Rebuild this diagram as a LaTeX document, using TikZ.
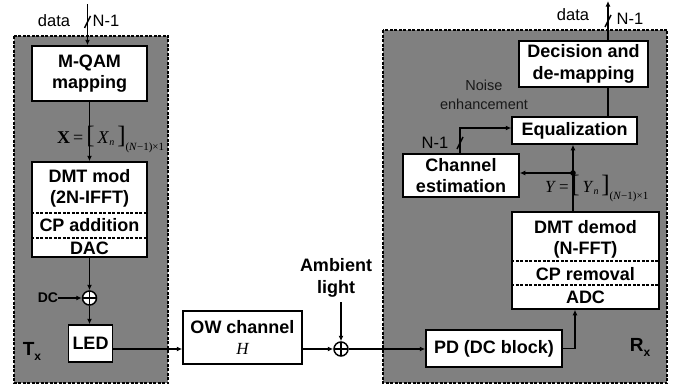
\documentclass[tikz,border=0pt]{standalone}
\usepackage{fontspec}
\setmainfont{Liberation Sans}
\newfontfamily\tms{Liberation Serif}
\usetikzlibrary{arrows.meta,calc}
\definecolor{panel}{HTML}{808080}
\newcommand{\bigbr}[1]{{\fontsize{25}{25}\selectfont #1}}
\begin{document}
\begin{tikzpicture}[x=1pt,y=-1pt,
  panelbox/.style={draw=black,fill=panel,line width=1.1pt,dash pattern=on 3pt off 1.5pt},
  box/.style={draw=black,fill=white,line width=1.5pt,inner sep=0pt,align=center,font=\fontsize{18}{21.5}\selectfont\bfseries},
  btxt/.style={inner sep=0pt,align=center,font=\fontsize{18}{21.5}\selectfont\bfseries},
  rtxt/.style={inner sep=0pt,align=center,font=\fontsize{16.5}{19}\selectfont},
  mtxt/.style={inner sep=0pt,font=\tms\fontsize{18}{18}\selectfont},
  sep/.style={line width=1.1pt,dash pattern=on 3pt off 1.5pt},
  conn/.style={line width=1.5pt},
  arr/.style={conn,-{Latex[length=5.5pt,width=5pt]}},
  sum/.style={circle,draw=black,fill=white,line width=1.5pt,minimum size=14pt,inner sep=0pt,
    path picture={\draw[line width=1.2pt] (path picture bounding box.north) -- (path picture bounding box.south) (path picture bounding box.west) -- (path picture bounding box.east);}}
]
\useasboundingbox (0,0) rectangle (686,388);
% panels
\draw[panelbox] (14,36) rectangle (168,383);
\draw[panelbox] (383,30) rectangle (667,383);

% ---------- Transmitter ----------
\node[box,minimum width=115pt,minimum height=55pt] (mqam) at (89.5,73.5) {M-QAM\\mapping};
\node[box,minimum width=115pt,minimum height=95pt] (dmt) at (89.5,209.5) {};
\node[btxt] (dmtA) at (89.5,188.5) {DMT mod\\(2N-IFFT)};
\node[btxt] (dmtB) at (89.5,225.5) {CP addition};
\node[btxt] (dmtC) at (89.5,248) {DAC};
\coordinate (m1) at (0,213);
\coordinate (m2) at (0,238);
\draw[sep] (dmt.west |- m1) -- (dmt.east |- m1);
\draw[sep] (dmt.west |- m2) -- (dmt.east |- m2);

\coordinate (datain) at (87.5,4);
\draw[arr] (datain) -- (datain |- mqam.north);
\draw[conn] ($(datain)+(-3,24)$) -- ($(datain)+(3,12)$);
\node[rtxt] (datal) at (54,21) {data};
\node[rtxt] (n1) at (106,21) {N-1};

\draw[arr] (mqam.south) -- (dmt.north);
\node[mtxt,anchor=west] (xlbl) at (57,139) {\textbf{X}\,=\,\bigbr{[}\,\textit{X}\raisebox{-2pt}{\fontsize{10}{10}\selectfont\textit{n}}\,\bigbr{]}\raisebox{-7pt}{\fontsize{11}{11}\selectfont(\textit{N}−1)×1}};

\node[sum] (sum1) at (89.5,298) {};
\draw[arr] (dmt.south) -- (sum1.north);
\node[btxt,font=\fontsize{14}{15}\selectfont\bfseries] (dc) at (48,298) {DC};
\draw[arr] (dc.east) -- (sum1.west);
\node[box,minimum width=44pt,minimum height=37pt] (led) at (90.5,343.5) {LED};
\draw[arr] (sum1.south) -- (sum1.south |- led.north);
\node[inner sep=0pt] (tx) at (32,351) {\fontsize{19}{20}\selectfont\bfseries T\raisebox{-5pt}{\fontsize{12}{12}\selectfont x}};

% ---------- Channel ----------
\coordinate (ly) at (0,349);
\node[box,minimum width=119pt,minimum height=53pt] (ow) at (242.5,337.5) {OW channel\\{\tms\fontsize{17}{17}\selectfont\mdseries\itshape H}};
\draw[arr] (led.east |- ly) -- (ow.west |- ly);
\node[sum] (sum2) at (341,349) {};
\draw[arr] (ow.east |- ly) -- (sum2.west);
\node[btxt] (amb) at (336,278) {Ambient\\light};
\coordinate (ambtop) at (341,302);
\draw[arr] (ambtop) -- (sum2.north);

% ---------- Receiver ----------
\node[box,minimum width=136pt,minimum height=37pt] (pd) at (494,348.5) {PD (DC block)};
\draw[arr] (sum2.east) -- (pd.west |- sum2.east);

\node[box,minimum width=147pt,minimum height=97pt] (dmtd) at (585.5,260.5) {};
\node[btxt] (ddA) at (585.5,239.5) {DMT demod\\(N-FFT)};
\node[btxt] (ddB) at (585.5,274) {CP removal};
\node[btxt] (ddC) at (585.5,297) {ADC};
\coordinate (r1) at (0,261);
\coordinate (r2) at (0,285);
\draw[sep] (dmtd.west |- r1) -- (dmtd.east |- r1);
\draw[sep] (dmtd.west |- r2) -- (dmtd.east |- r2);

\coordinate (cx) at (575,0);
\draw[arr] (pd.east) -| (cx |- dmtd.south);

\node[box,minimum width=125pt,minimum height=27pt] (eq) at (574.5,130.5) {Equalization};
\node[box,minimum width=116pt,minimum height=43pt] (chest) at (461,175.5) {Channel\\estimation};
\node[box,minimum width=129pt,minimum height=46pt] (dec) at (583.5,64) {Decision and\\de-mapping};

\coordinate (vx) at (573,0);
\coordinate (branch) at (573,173);
\draw[arr] (vx |- dmtd.north) -- (vx |- eq.south);
\fill (branch) circle (2.8pt);
\draw[arr] (branch) -- (chest.east |- branch);
\node[mtxt,anchor=west,font=\tms\fontsize{17}{17}\selectfont] (ylbl) at (545,188) {\textit{Y}\,=\,\bigbr{[}\,\textit{Y}\raisebox{-2pt}{\fontsize{10}{10}\selectfont\textit{n}}\,\bigbr{]}\raisebox{-7pt}{\fontsize{11}{11}\selectfont(\textit{N}−1)×1}};

\coordinate (cex) at (460,0);
\coordinate (eqy) at (0,128);
\draw[arr] (cex |- chest.north) |- (eq.west |- eqy);
\coordinate (s2) at (460,143);
\draw[conn] ($(s2)+(-3,6)$) -- ($(s2)+(3,-6)$);
\node[rtxt] (n2) at (435,143) {N-1};

\node[inner sep=0pt,align=center,font=\fontsize{14.5}{19}\selectfont,text=black!90] (noise) at (484,94.5) {Noise\\enhancement};

\coordinate (dx) at (608,0);
\coordinate (dout) at (608,1);
\draw[conn] (dx |- eq.north) -- (dx |- dec.south);
\draw[arr] (dx |- dec.north) -- (dout);
\coordinate (s3) at (608,21);
\draw[conn] ($(s3)+(-3,6)$) -- ($(s3)+(3,-6)$);
\node[rtxt] (datal2) at (573,15) {data};
\node[rtxt] (n3) at (630,19) {N-1};

\node[inner sep=0pt] (rx) at (640,347) {\fontsize{19}{20}\selectfont\bfseries R\raisebox{-5pt}{\fontsize{12}{12}\selectfont x}};
\end{tikzpicture}
\end{document}
